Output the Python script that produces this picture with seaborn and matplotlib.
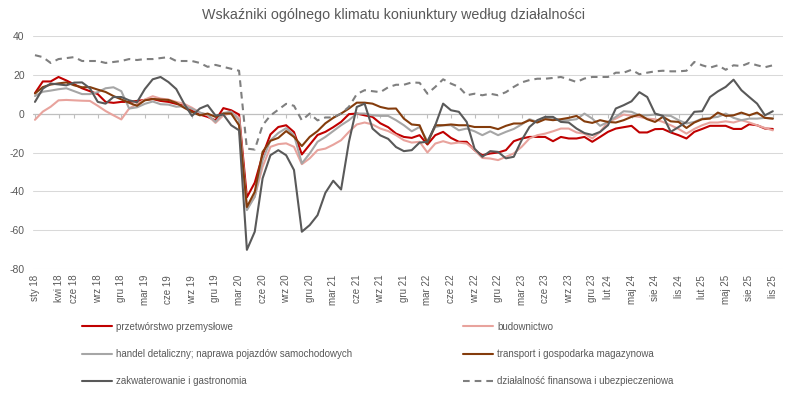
import pandas as pd
import seaborn as sns
import matplotlib.pyplot as plt

# Dane: miesiące od sty 2018 do lis 2025
months_pl = ['sty', 'lut', 'mar', 'kwi', 'maj', 'cze', 'lip', 'sie', 'wrz', 'paź', 'lis', 'gru']
dates = pd.date_range('2018-01-01', '2025-11-01', freq='MS')
month_labels = [f"{months_pl[d.month - 1]} {d.year % 100:02d}" for d in dates]

tick_labels = ['sty 18', 'kwi 18', 'cze 18', 'wrz 18', 'gru 18', 'mar 19', 'cze 19', 'wrz 19',
               'gru 19', 'mar 20', 'cze 20', 'wrz 20', 'gru 20', 'mar 21', 'cze 21', 'wrz 21',
               'gru 21', 'mar 22', 'cze 22', 'wrz 22', 'gru 22', 'mar 23', 'cze 23', 'wrz 23',
               'gru 23', 'lut 24', 'maj 24', 'sie 24', 'lis 24', 'lut 25', 'maj 25', 'sie 25',
               'lis 25']

przetworstwo = [10.5, 16.5, 16.5, 18.8, 17, 15, 13, 11.5, 10, 6,
                5.5, 6, 6, 6.5, 7, 7.5, 6.5, 6, 5, 4,
                1.5, -0.5, -1.7, -3.5, 2.8, 1.7, -0.5, -43, -35.5, -21.4,
                -10.7, -6.9, -6, -9.5, -21, -16, -11, -9.4, -7, -4.3,
                -0.3, 0, -0.9, -1.7, -5, -7, -10.3, -12, -12.5, -11.1,
                -15.9, -11.1, -9.4, -12.5, -14.5, -14.5, -18.8, -21.4, -20.5, -20,
                -18.8, -14.2, -12.8, -12, -12, -12, -14.2, -12, -12.8, -12.8,
                -12, -14.5, -12, -9.4, -7.7, -7, -6.3, -9.7, -9.7, -8,
                -7.9, -9.7, -11.1, -12.8, -9.4, -7.9, -6.3, -6.3, -6.3, -7.9,
                -7.9, -5.5, -6, -7.7, -7.9]

budownictwo = [-3.2, 1, 3.5, 6.8, 7, 6.8, 6.6, 6.5, 4, 1.3,
               -0.9, -3, 2.6, 5, 7.2, 8.9, 7.7, 7.2, 6, 5,
               3, 0.5, -0.9, -4.8, -0.9, 0.3, -2, -48.7, -42.7, -27.4,
               -17.1, -15.7, -15.3, -17.1, -26, -23, -18.8, -18, -16, -13.7,
               -9.4, -5.6, -4.6, -5.6, -7.7, -9, -11.1, -13.7, -14.9, -14.5,
               -20, -15.4, -14.2, -15.4, -14.9, -15.4, -18.8, -22.8, -23.1, -23.9,
               -22.2, -20.5, -17.1, -12.8, -11.1, -10.3, -9.1, -7.7, -7.7, -9.7,
               -10.3, -12.8, -9.4, -4.3, -2.6, -0.5, -1.2, -1.7, -2.6, -2.9,
               -4.3, -6, -7.9, -10.3, -7.9, -6, -4.6, -4.6, -4, -4.6,
               -3.4, -4.6, -6, -7.4, -8.6]

handel = [9, 11.2, 11.8, 12.5, 13, 11.5, 10, 10, 11, 13,
          13.5, 11.5, 2.6, 3.2, 5, 6.2, 4.8, 4.6, 3.5, 3.8,
          2.5, 0.5, -0.5, -4.3, 0.3, 1, -3.4, -49.6, -42.7, -24,
          -13.7, -10, -7.5, -11, -25.6, -20.5, -14.5, -12, -9, -6,
          -3.4, 0, 0, -0.9, -1.2, -1.2, -3.4, -6, -9.1, -6.9,
          -14.2, -6.9, -6, -6, -8.6, -7.7, -9.1, -11.1, -9.1, -11.1,
          -9.4, -7.9, -5.6, -2.9, -4.3, -2.2, -2.6, -3.4, -3.4, -2.9,
          0, -2.6, -6.3, -4.3, -1.7, 1.2, 0.9, -0.9, -0.9, -0.5,
          -0.9, -1.2, -3.4, -5.1, -4.3, -2.6, -2.2, -1.7, 0, -2.2,
          -3.4, -2.6, -2.6, -2.2, -2.6]

transport = [10.3, 13.6, 14.9, 15.5, 16, 14.5, 13.5, 13.6, 12.3, 11.1,
             9, 7.3, 5.5, 4, 6.8, 7.5, 7.2, 7, 5.5, 3,
             0.8, -0.9, 0, -1.7, 0, 0, -6, -48, -40.2, -19.7,
             -14, -12.5, -9, -12, -16.7, -12, -9, -5, -2.2, 0,
             2.6, 5.6, 5.6, 5.1, 3.4, 2.5, 2.6, -2.6, -5.6, -6,
             -15.4, -6, -6, -5.6, -6, -6, -6.9, -6.9, -6.9, -8,
             -6.3, -5.1, -5.1, -3.4, -4.6, -2.9, -3.4, -2.9, -2.2, -1.2,
             -4, -4.8, -3.4, -4.3, -4.6, -3.4, -1.7, -0.5, -2.9, -4.3,
             -1.7, -4, -4.3, -7.4, -4.6, -2.9, -2.6, 0.5, -1.2, -0.9,
             0.5, -0.9, 0.5, -2.2, -2.6]

zakwaterowanie = [6, 12.8, 15.4, 15, 14.5, 15.9, 16, 13, 6, 5.1,
                  8.5, 8.5, 6.8, 5.8, 12.6, 17.6, 18.8, 16.2, 12.6, 5.1,
                  -1.2, 2.6, 4.3, -1, -0.5, -6, -8.6, -70, -60.7, -33.3,
                  -21.4, -18.8, -21.4, -29, -60.7, -57.3, -52.2, -40.7, -34.5, -39,
                  -14.5, 3.4, 5.1, -7.7, -11.2, -13, -17.2, -19.3, -18.8, -14.9,
                  -14.5, -6, 5.1, 1.7, 0.9, -4.3, -18, -22.2, -19.3, -19.7,
                  -23, -22.2, -13.7, -6.9, -3.4, -1.7, -1.7, -4.3, -4.6, -7.7,
                  -10, -11, -9.4, -6, 2.6, 4.3, 6.3, 11, 8.5, 0,
                  -1.2, -9.4, -6.9, -4.3, 0.9, 1.2, 8.5, 11.4, 13.7, 17.4,
                  12, 8.5, 5.1, -0.9, 1.2]

finanse = [30, 29, 26, 28, 28.5, 29, 27, 27, 27, 26,
           26.5, 27, 28, 27.5, 28, 28, 28.5, 29, 27, 27,
           27, 26, 24, 25, 24, 23, 22, -18, -18.5, -6,
           -1, 2, 5, 4, -3.5, 0, -3.5, -2, -2, 0,
           3.5, 10, 12, 11.5, 11, 13.5, 14.8, 14.8, 16, 15.8,
           10.2, 13.7, 17.6, 15.4, 13.7, 9.4, 10.2, 9.4, 10.2, 9.4,
           11, 13.7, 16, 17.2, 17.9, 17.9, 18.3, 18.8, 17.6, 16.2,
           18, 18.8, 18.8, 18.8, 21, 21, 22.5, 20.2, 21, 21.7,
           22, 21.7, 21.7, 22, 26.5, 24.8, 23.6, 24.8, 22.5, 24.8,
           24.4, 26, 24.8, 23.8, 24.8]

series_names = ['przetwórstwo przemysłowe', 'budownictwo',
                'handel detaliczny; naprawa pojazdów samochodowych',
                'transport i gospodarka magazynowa', 'zakwaterowanie i gastronomia',
                'działalność finansowa i ubezpieczeniowa']
series_values = [przetworstwo, budownictwo, handel, transport, zakwaterowanie, finanse]
colors = ['#C00000', '#E8A39D', '#A6A6A6', '#843C0C', '#595959', '#7F7F7F']

frames = []
for name, vals in zip(series_names, series_values):
    frames.append(pd.DataFrame({'idx': range(len(vals)), 'wartosc': vals, 'seria': name}))
df = pd.concat(frames, ignore_index=True)

sns.set_style('white')
plt.rcParams['font.family'] = ['Liberation Sans', 'DejaVu Sans']
plt.rcParams['axes.unicode_minus'] = False
txt = '#595959'

W, H = 787, 396
fig = plt.figure(figsize=(W / 100, H / 100), dpi=100)
ax = fig.add_axes([33 / W, 1 - 269.3 / H, (783 - 33) / W, (269.3 - 35.7) / H])

dash_map = {n: '' for n in series_names}
dash_map[series_names[-1]] = (3.2, 2.4)
sns.lineplot(data=df, x='idx', y='wartosc', hue='seria', style='seria',
             hue_order=series_names, style_order=series_names,
             palette=dict(zip(series_names, colors)), dashes=dash_map,
             linewidth=1.5, ax=ax, legend=False)

ax.set_xlim(-0.25, 95.3)
ax.set_ylim(-80, 40)
ax.set_yticks(range(-80, 41, 20))
ax.yaxis.grid(True, color='#D9D9D9', linewidth=0.75)
ax.set_axisbelow(True)
for s in ax.spines.values():
    s.set_visible(False)
ax.set_xlabel('')
ax.set_ylabel('')

tick_pos = [month_labels.index(t) for t in tick_labels]
ax.set_xticks(tick_pos)
ax.set_xticklabels(tick_labels, rotation=90, fontsize=7, color=txt)
ax.tick_params(axis='x', length=0, pad=4)
ax.tick_params(axis='y', length=0, pad=6, labelsize=7.5, labelcolor=txt)

# oś pozioma w punkcie 0
ax.axhline(0, color='#BFBFBF', linewidth=0.9, zorder=1)
sec = ax.secondary_xaxis(80 / 120)
sec.set_xticks(tick_pos)
sec.set_xticklabels([])
sec.tick_params(direction='in', length=3, color='#BFBFBF', width=0.8)
for s in sec.spines.values():
    s.set_visible(False)

fig.text(0.5, 1 - 15 / H, 'Wskaźniki ogólnego klimatu koniunktury według działalności',
         ha='center', va='center', fontsize=10.3, color=txt)

lines = ax.get_lines()[:6]
leg_kw = dict(frameon=False, fontsize=7, labelcolor=txt, handlelength=3.1,
              handletextpad=0.45, labelspacing=1.8, borderpad=0, borderaxespad=0,
              loc='upper left')
fig.legend([lines[0], lines[2], lines[4]], [series_names[0], series_names[2], series_names[4]],
           bbox_to_anchor=(81.7 / W, 1 - 321.5 / H), **leg_kw)
fig.legend([lines[1], lines[3], lines[5]], [series_names[1], series_names[3], series_names[5]],
           bbox_to_anchor=(462.7 / W, 1 - 321.5 / H), **leg_kw)

fig.savefig('out.png', dpi=100, facecolor='white')
